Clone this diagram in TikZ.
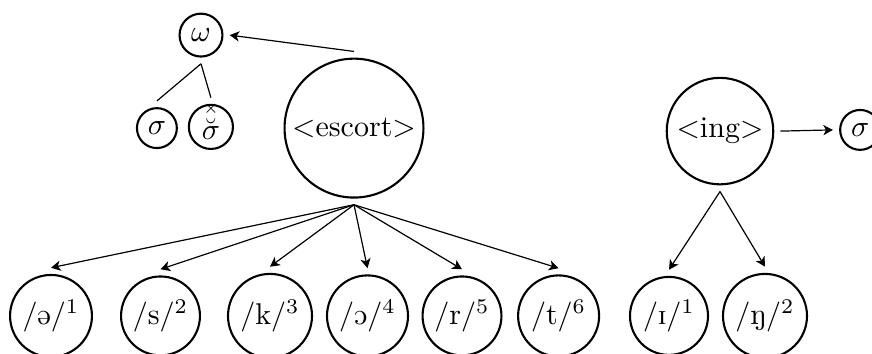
\documentclass[tikz,border=0pt]{standalone}
\usepackage{amsmath}
\usepackage{tipa}
\usetikzlibrary{arrows.meta}
\begin{document}
\begin{tikzpicture}[x=1pt,y=1pt,
  circ/.style={circle,draw,line width=0.7pt,inner sep=1.3pt,outer sep=2.4pt},
  arr/.style={-{Stealth[length=3.2pt,width=3.4pt,inset=0.9pt]},line width=0.4pt},
  ln/.style={line width=0.4pt}]
\useasboundingbox (0,0) rectangle (290.67,-117.67);
\node[circ,minimum size=14.3pt] (om) at (67,-11.7) {$\omega$};
\node[circ,minimum size=13.3pt] (s1) at (52.3,-42.7) {$\sigma$};
\node[circ,minimum size=14.7pt,inner sep=0pt,text height=8.6pt,text depth=0pt] (s2) at (70.3,-42.3) {$\overset{\scriptscriptstyle\times}{\breve{\sigma}}$};
\node[circ,minimum size=46.3pt] (esc) at (118,-42.7) {$<$escort$>$};
\node[circ,minimum size=35.5pt] (ing) at (240,-43.7) {$<$ing$>$};
\node[circ,minimum size=13.3pt] (sg) at (286.7,-43.3) {$\sigma$};
\node[circ,minimum size=27.3pt] (c1) at (17,-105.3) {$/$\textipa{@}$/^1$};
\node[circ,minimum size=26.3pt] (c2) at (53.5,-105.3) {$/$s$/^2$};
\node[circ,minimum size=28pt] (c3) at (90,-105.3) {$/$k$/^3$};
\node[circ,minimum size=27pt] (c4) at (122.5,-105.3) {$/$\textipa{O}$/^4$};
\node[circ,minimum size=26.3pt] (c5) at (154,-105.3) {$/$r$/^5$};
\node[circ,minimum size=27pt] (c6) at (186.2,-105.3) {$/$t$/^6$};
\node[circ,minimum size=26pt] (d1) at (223,-105.3) {$/$\textipa{I}$/^1$};
\node[circ,minimum size=28pt] (d2) at (255,-105.3) {$/$\textipa{N}$/^2$};
\draw[ln] (om.south) -- (s1.north);
\draw[ln] (om.south) -- (s2.north);
\draw[arr] (esc.north) -- (om.east);
\draw[arr] (ing.east) -- (sg.west);
\foreach \c in {c1,c2,c3,c4,c5,c6} \draw[arr] (esc.south) -- (\c.north);
\foreach \c in {d1,d2} \draw[arr] (ing.south) -- (\c.north);
\end{tikzpicture}
\end{document}
